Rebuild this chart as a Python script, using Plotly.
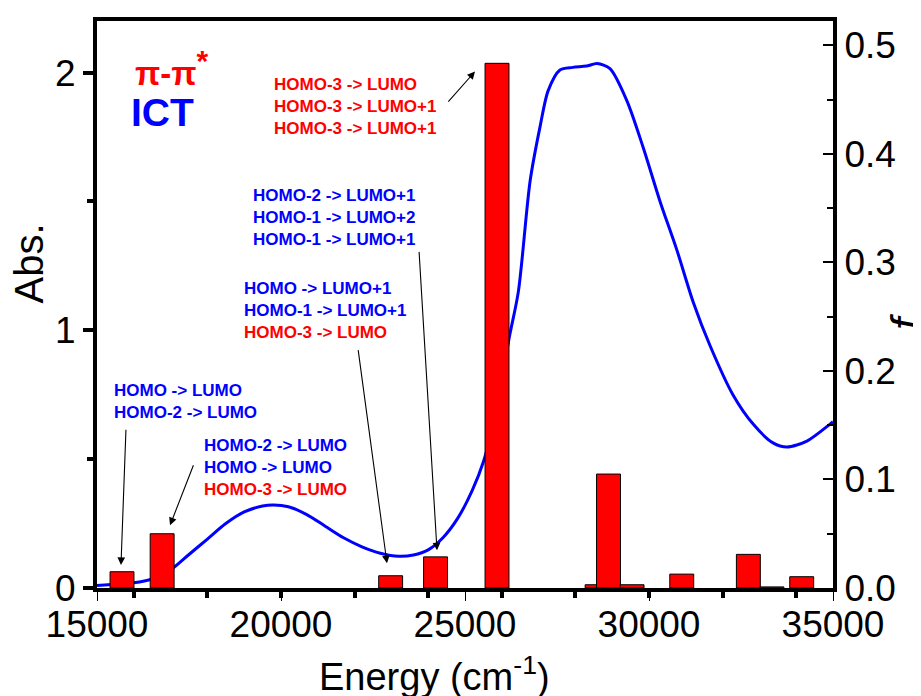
import plotly.graph_objects as go

# ---- data ----
curve_energy = [15000, 15500, 16000, 16500, 17000, 17500, 18000, 18500, 19000, 19500,
                19800, 20200, 20700, 21200, 21700, 22200, 22700, 23200, 23600, 24000,
                24400, 24800, 25200, 25500, 25900, 26200, 26450, 26770, 27040, 27260,
                27580, 27930, 28300, 28590, 28940, 29400, 29840, 30300, 30760, 31200,
                31660, 32280, 32830, 33370, 33750, 34290, 34920, 35000]
curve_abs = [0.01, 0.015, 0.02, 0.035, 0.07, 0.13, 0.19, 0.25, 0.295, 0.318,
             0.322, 0.315, 0.285, 0.24, 0.195, 0.16, 0.135, 0.123, 0.128, 0.148,
             0.195, 0.27, 0.38, 0.49, 0.72, 0.97, 1.15, 1.58, 1.79, 1.93,
             2.01, 2.02, 2.025, 2.035, 2.015, 1.89, 1.71, 1.50, 1.31, 1.11,
             0.94, 0.75, 0.636, 0.563, 0.547, 0.57, 0.636, 0.645]

bar_energy = [15680, 16770, 22980, 24200, 25870, 28590, 28900, 29540, 30890, 32700, 33340, 34150]
bar_f = [0.015, 0.050, 0.0113, 0.0287, 0.4835, 0.003, 0.105, 0.003, 0.0128, 0.031, 0.001, 0.0104]

x_label_ticks = [15000, 20000, 25000, 30000, 35000]
x_label_text = ["15000", "20000", "25000", "30000", "35000"]
x_mark_ticks = [16000, 18000, 20000, 22000, 24000, 26000, 28000, 30000, 32000, 34000]
abs_ticks = [0, 1, 2]
abs_minor = [0.5, 1.5]
f_ticks = [0.0, 0.1, 0.2, 0.3, 0.4, 0.5]
f_ticktext = ["0.0", "0.1", "0.2", "0.3", "0.4", "0.5"]
f_minor = [0.05, 0.15, 0.25, 0.35, 0.45]

# transition labels: (lines, colors, x, y)
grp_lines = [
    ["HOMO-3 -> LUMO", "HOMO-3 -> LUMO+1", "HOMO-3 -> LUMO+1"],
    ["HOMO-2 -> LUMO+1", "HOMO-1 -> LUMO+2", "HOMO-1 -> LUMO+1"],
    ["HOMO -> LUMO+1", "HOMO-1 -> LUMO+1", "HOMO-3 -> LUMO"],
    ["HOMO -> LUMO", "HOMO-2 -> LUMO"],
    ["HOMO-2 -> LUMO", "HOMO -> LUMO", "HOMO-3 -> LUMO"],
]
grp_colors = [
    ["#FF0000", "#FF0000", "#FF0000"],
    ["#0000FF", "#0000FF", "#0000FF"],
    ["#0000FF", "#0000FF", "#FF0000"],
    ["#0000FF", "#0000FF"],
    ["#0000FF", "#0000FF", "#FF0000"],
]
grp_x = [19755, 19185, 18948, 15399, 17845]
grp_y = [1.869, 1.439, 1.075, 0.722, 0.469]

# arrows: tail -> head (energy, Abs)
arrow_tail_x = [24511, 23750, 22092, 15788, 17636]
arrow_tail_y = [1.881, 1.310, 0.929, 0.620, 0.482]
arrow_head_x = [25272, 24239, 22880, 15652, 16984]
arrow_head_y = [2.004, 0.146, 0.096, 0.089, 0.243]

FONT = "Arial, Liberation Sans, sans-serif"

fig = go.Figure()
fig.add_trace(go.Scatter(x=curve_energy, y=curve_abs, mode="lines",
                         line=dict(color="#0000FF", width=3, shape="spline", smoothing=0.8),
                         xaxis="x", yaxis="y", hoverinfo="skip"))
fig.add_trace(go.Bar(x=bar_energy, y=bar_f, width=650,
                     marker=dict(color="#FF0000", line=dict(color="black", width=1)),
                     xaxis="x", yaxis="y2", hoverinfo="skip"))
fig.add_trace(go.Scatter(x=[], y=[], xaxis="x2", yaxis="y", hoverinfo="skip"))

annotations = []
for lines, cols, gx, gy in zip(grp_lines, grp_colors, grp_x, grp_y):
    txt = "<br>".join(f"<b><span style='color:{c}'>{t}</span></b>" for t, c in zip(lines, cols))
    annotations.append(dict(x=gx, y=gy, xref="x", yref="y", text=txt, showarrow=False,
                            xanchor="left", yanchor="middle", align="left",
                            font=dict(family=FONT, size=17, color="#0000FF"),
                            ))
for tx, ty, hx, hy in zip(arrow_tail_x, arrow_tail_y, arrow_head_x, arrow_head_y):
    annotations.append(dict(x=hx, y=hy, xref="x", yref="y", ax=tx, ay=ty,
                            axref="x", ayref="y", text="", showarrow=True,
                            arrowhead=2, arrowsize=1.4, arrowwidth=1.1,
                            arrowcolor="black", standoff=0, startstandoff=0))

# legend-like labels
annotations.append(dict(x=15978, y=2.019, xref="x", yref="y",
                        text="<b>π-π<sup><span style='font-size:30px'>*</span></sup></b>",
                        showarrow=False, xanchor="left", yanchor="middle",
                        font=dict(family=FONT, size=33, color="#FF0000")))
annotations.append(dict(x=15870, y=1.846, xref="x", yref="y", text="<b>ICT</b>",
                        showarrow=False, xanchor="left", yanchor="middle",
                        font=dict(family=FONT, size=39, color="#0000FF")))

# axis titles
annotations.append(dict(x=-0.092, y=0.573, xref="paper", yref="paper", text="Abs.",
                        showarrow=False, textangle=-90, xanchor="center", yanchor="middle",
                        font=dict(family=FONT, size=40, color="black")))
annotations.append(dict(x=0.4592, y=-0.152, xref="paper", yref="paper",
                        text="Energy (cm<sup>-1</sup>)",
                        showarrow=False, xanchor="center", yanchor="middle",
                        font=dict(family=FONT, size=38, color="black")))
annotations.append(dict(x=1.0992, y=0.469, xref="paper", yref="paper", text="<i>f</i>",
                        showarrow=False, textangle=-90, xanchor="center", yanchor="middle",
                        font=dict(family=FONT, size=44, color="black")))

# page body has an 8px default margin; offset the plot area to compensate
fig.update_layout(
    width=921, height=696,
    margin=dict(l=89, r=96, t=9, b=116),
    paper_bgcolor="white", plot_bgcolor="white",
    showlegend=False,
    font=dict(family=FONT, color="black"),
    xaxis=dict(range=[15000, 35000], tickvals=x_label_ticks, ticktext=x_label_text,
               ticks="outside", ticklen=9, tickwidth=1, tickcolor="black",
               ticklabelstandoff=-8,
               showline=True, linewidth=4, linecolor="black", mirror=True,
               showgrid=False, zeroline=False,
               tickfont=dict(family=FONT, size=37, color="black")),
    xaxis2=dict(range=[15000, 35000], overlaying="x", anchor="y", side="bottom",
                tickvals=x_mark_ticks, ticks="outside", ticklen=9, tickwidth=4,
                tickcolor="black", showticklabels=False, showline=False,
                showgrid=False, zeroline=False),
    yaxis=dict(range=[0, 2.2], tickvals=abs_ticks, ticks="outside", ticklen=10,
               tickwidth=4, tickcolor="black",
               minor=dict(tickvals=abs_minor, ticks="outside", ticklen=6, tickwidth=4,
                          tickcolor="black", showgrid=False),
               showline=True, linewidth=4, linecolor="black",
               showgrid=False, zeroline=False,
               tickfont=dict(family=FONT, size=37, color="black")),
    yaxis2=dict(range=[0, 0.5225], overlaying="y", side="right", anchor="x",
                tickvals=f_ticks, ticktext=f_ticktext, ticks="inside", ticklen=10,
                tickwidth=2, tickcolor="black",
                minor=dict(tickvals=f_minor, ticks="inside", ticklen=6, tickwidth=2,
                           tickcolor="black", showgrid=False),
                showline=True, linewidth=4, linecolor="black",
                showgrid=False, zeroline=False,
                tickfont=dict(family=FONT, size=37, color="black")),
    annotations=annotations,
)

fig.write_html("out.html")
